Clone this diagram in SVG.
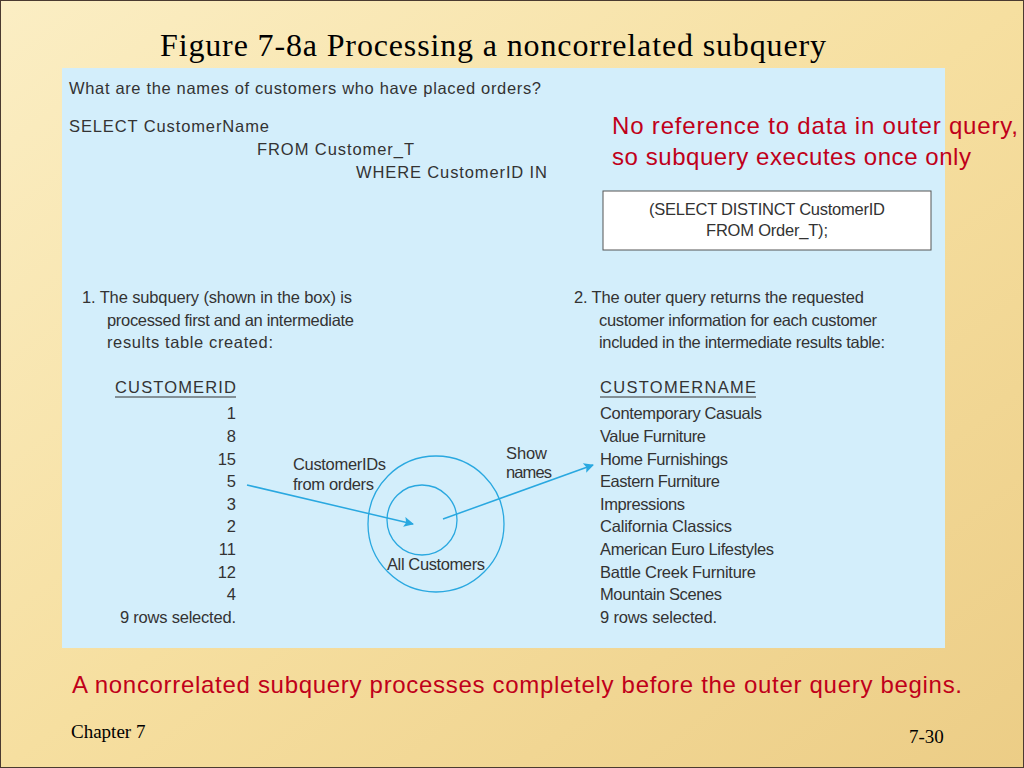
<svg xmlns="http://www.w3.org/2000/svg" width="1024" height="768" viewBox="0 0 1024 768">
<defs>
<linearGradient id="bg" x1="0" y1="0" x2="1" y2="1">
<stop offset="0" stop-color="#fbeec4"/><stop offset="0.5" stop-color="#f6dfa0"/><stop offset="1" stop-color="#eccd86"/>
</linearGradient>
<marker id="ah" viewBox="0 0 10 10" refX="9" refY="5" markerWidth="14" markerHeight="10" markerUnits="userSpaceOnUse" orient="auto"><path d="M0,0 L10,5 L0,10 L2,5 Z" fill="#29a8e0"/></marker>
</defs>
<style>
.s{font-family:"Liberation Sans",Arial,sans-serif;font-size:16.5px;fill:#333}
.r{font-family:"Liberation Sans",Arial,sans-serif;font-size:24px;fill:#c0001a}
.t{font-family:"Liberation Serif","Times New Roman",serif;fill:#000}
.e{text-anchor:end}
</style>
<rect x="0" y="0" width="1024" height="768" fill="url(#bg)" stroke="#4a3a30" stroke-width="2"/>
<text class="t" x="160" y="56" font-size="32" textLength="666">Figure 7-8a Processing a noncorrelated subquery</text>
<rect x="62" y="68" width="883" height="580" fill="#d3eefb"/>
<g id="text">
<text class="s" x="69" y="94" textLength="472">What are the names of customers who have placed orders?</text>
<text class="s" x="69" y="132" textLength="200">SELECT CustomerName</text>
<text class="s" x="257" y="155" textLength="157">FROM Customer_T</text>
<text class="s" x="356" y="178" textLength="191">WHERE CustomerID IN</text>
<text class="s" x="82" y="303" textLength="270">1.  The subquery (shown in the box) is</text>
<text class="s" x="107" y="326" textLength="247">processed first and an intermediate</text>
<text class="s" x="107" y="348" textLength="166">results table created:</text>
<text class="s" x="574" y="303" textLength="290">2.  The outer query returns the requested</text>
<text class="s" x="599" y="326" textLength="278">customer information for each customer</text>
<text class="s" x="599" y="348" textLength="286">included in the intermediate results table:</text>
</g>
<g id="box"><rect x="603" y="191" width="328" height="59" fill="#fff" stroke="#555"/>
<text class="s" x="767" y="215" text-anchor="middle" textLength="236">(SELECT DISTINCT CustomerID</text>
<text class="s" x="767" y="236" text-anchor="middle" textLength="122">FROM Order_T);</text></g>
<g id="note"><text class="r" x="612" y="134" textLength="406">No reference to data in outer query,</text>
<text class="r" x="612" y="165" textLength="359">so subquery executes once only</text></g>
<g id="ids">
<text class="s" x="115" y="393" font-size="18" textLength="121">CUSTOMERID</text>
<line x1="115" y1="397" x2="236" y2="397" stroke="#333"/>
<text class="s e" x="236" y="419">1</text><text class="s e" x="236" y="442">8</text><text class="s e" x="236" y="465">15</text><text class="s e" x="236" y="487">5</text><text class="s e" x="236" y="510">3</text><text class="s e" x="236" y="532">2</text><text class="s e" x="236" y="555">11</text><text class="s e" x="236" y="578">12</text><text class="s e" x="236" y="600">4</text>
<text class="s" x="120" y="623" textLength="116">9 rows selected.</text>
</g>
<g id="names">
<text class="s" x="600" y="393" font-size="18" textLength="156">CUSTOMERNAME</text>
<line x1="600" y1="397" x2="756" y2="397" stroke="#333"/>
<text class="s" x="600" y="419" textLength="162">Contemporary Casuals</text><text class="s" x="600" y="442" textLength="106">Value Furniture</text><text class="s" x="600" y="465" textLength="128">Home Furnishings</text><text class="s" x="600" y="487" textLength="120">Eastern Furniture</text><text class="s" x="600" y="510" textLength="85">Impressions</text><text class="s" x="600" y="532" textLength="132">California Classics</text><text class="s" x="600" y="555" textLength="174">American Euro Lifestyles</text><text class="s" x="600" y="578" textLength="156">Battle Creek Furniture</text><text class="s" x="600" y="600" textLength="122">Mountain Scenes</text><text class="s" x="600" y="623" textLength="117">9 rows selected.</text>
</g>
<g id="circles" fill="none" stroke="#29a8e0" stroke-width="1.3">
<circle cx="436" cy="524" r="68"/><circle cx="422" cy="520" r="35"/>
</g>
<text class="s" x="293" y="470" textLength="93">CustomerIDs</text><text class="s" x="293" y="490" textLength="81">from orders</text>
<text class="s" x="506" y="459" textLength="41">Show</text><text class="s" x="506" y="478" textLength="46">names</text>
<text class="s" x="387" y="570" textLength="98">All Customers</text>
<g id="connectors" stroke="#29a8e0" stroke-width="1.5" fill="none" marker-end="url(#ah)">
<line x1="247" y1="485" x2="413" y2="524"/>
<line x1="443" y1="519" x2="593" y2="465"/>
</g>
<text class="r" x="72" y="693" textLength="890">A noncorrelated subquery processes completely before the outer query begins.</text>
<text class="t" x="71" y="738" font-size="19">Chapter 7</text>
<text class="t" x="909" y="743" font-size="19">7-30</text>
</svg>
